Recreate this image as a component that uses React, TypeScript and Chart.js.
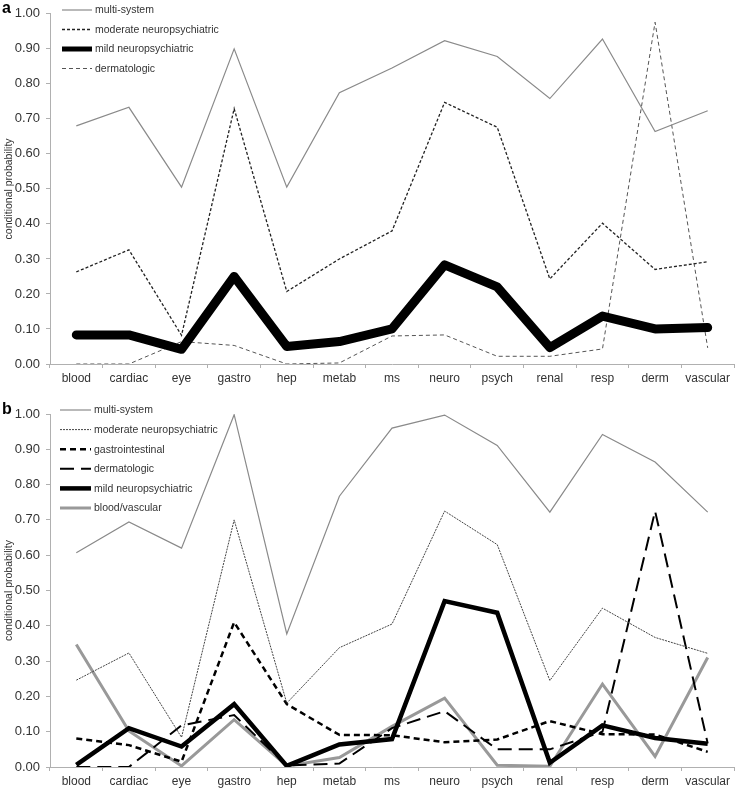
import React, { useEffect, useRef } from "react";
import { Chart, registerables } from "chart.js";

Chart.register(...registerables);

const categories = ["blood", "cardiac", "eye", "gastro", "hep", "metab", "ms", "neuro", "psych", "renal", "resp", "derm", "vascular"];
const yTickValues = [0, 0.1, 0.2, 0.3, 0.4, 0.5, 0.6, 0.7, 0.8, 0.9, 1.0];
const yTitle = "conditional probability";

// Panel a
const aMultiSystem = [0.68, 0.733, 0.505, 0.9, 0.505, 0.775, 0.845, 0.923, 0.878, 0.758, 0.928, 0.664, 0.723];
const aModerateNeuro = [0.263, 0.326, 0.082, 0.729, 0.207, 0.3, 0.38, 0.747, 0.676, 0.243, 0.402, 0.27, 0.292];
const aMildNeuro = [0.083, 0.083, 0.042, 0.25, 0.05, 0.064, 0.1, 0.283, 0.22, 0.047, 0.137, 0.1, 0.104];
const aDermatologic = [0, 0, 0.064, 0.053, 0, 0.003, 0.08, 0.083, 0.022, 0.022, 0.043, 0.976, 0.046];

// Panel b
const bMultiSystem = [0.607, 0.694, 0.62, 0.998, 0.377, 0.767, 0.96, 0.997, 0.911, 0.722, 0.942, 0.864, 0.722];
const bModerateNeuro = [0.246, 0.323, 0.084, 0.7, 0.181, 0.338, 0.405, 0.725, 0.63, 0.245, 0.45, 0.367, 0.322];
const bGastro = [0.081, 0.062, 0.015, 0.41, 0.178, 0.091, 0.09, 0.07, 0.078, 0.13, 0.093, 0.092, 0.043];
const bDermatologic = [0, 0, 0.118, 0.147, 0.004, 0.01, 0.11, 0.158, 0.05, 0.05, 0.1, 0.725, 0.067];
const bMildNeuro = [0.006, 0.11, 0.058, 0.178, 0.003, 0.064, 0.079, 0.47, 0.437, 0.012, 0.118, 0.082, 0.066];
const bBloodVascular = [0.347, 0.102, 0.003, 0.134, 0.003, 0.027, 0.115, 0.195, 0.005, 0.002, 0.235, 0.03, 0.31];

const FONT = "'Liberation Sans', Arial, sans-serif";

const lineLegendPlugin = {
  id: "lineLegend",
  afterDraw(chart: any) {
    const o = chart.options.plugins.lineLegend;
    if (!o) return;
    const ctx = chart.ctx;
    ctx.save();
    chart.data.datasets.forEach((ds: any, i: number) => {
      const y = o.y + i * o.spacing;
      ctx.beginPath();
      ctx.strokeStyle = ds.borderColor;
      ctx.lineWidth = Math.min(ds.borderWidth, 5);
      ctx.setLineDash(ds.borderDash || []);
      ctx.lineCap = "butt";
      ctx.moveTo(o.x, y);
      ctx.lineTo(o.x + o.w, y);
      ctx.stroke();
      ctx.setLineDash([]);
      ctx.fillStyle = "#333";
      ctx.font = `10.5px ${FONT}`;
      ctx.textBaseline = "middle";
      ctx.textAlign = "left";
      ctx.fillText(ds.label, o.x + o.w + 3, y + 0.5);
    });
    ctx.restore();
  },
};

function makeOptions(topPad: number, legend: any) {
  return {
    responsive: false,
    animation: false,
    layout: { padding: { top: topPad, right: 4, left: 0, bottom: 0 } },
    elements: { point: { radius: 0 }, line: { tension: 0 } },
    plugins: {
      legend: { display: false },
      tooltip: { enabled: false },
      lineLegend: legend,
    },
    scales: {
      x: {
        type: "category",
        offset: true,
        afterFit: (s: any) => { s.height = 23; },
        grid: { display: true, drawOnChartArea: false, drawTicks: true, tickLength: 4, offset: true, color: "#b0b0b0" },
        border: { color: "#b0b0b0", width: 1 },
        ticks: { color: "#333", font: { family: FONT, size: 12 }, padding: 3, autoSkip: false, maxRotation: 0 },
      },
      y: {
        min: 0,
        max: 1,
        afterFit: (s: any) => { s.width = 50; },
        afterBuildTicks: (s: any) => { s.ticks = yTickValues.map((v) => ({ value: v })); },
        grid: { display: true, drawOnChartArea: false, drawTicks: true, tickLength: 4, color: "#b0b0b0" },
        border: { color: "#b0b0b0", width: 1 },
        ticks: { color: "#333", font: { family: FONT, size: 13 }, padding: 6, callback: (v: any) => Number(v).toFixed(2) },
        title: { display: true, text: yTitle, color: "#333", font: { family: FONT, size: 10.5 }, padding: { top: 3, bottom: 0 } },
      },
    },
  };
}

function ChartCanvas({ height, config }: { height: number; config: () => any }) {
  const ref = useRef<HTMLCanvasElement>(null);
  useEffect(() => {
    const chart = new Chart(ref.current as HTMLCanvasElement, config());
    return () => chart.destroy();
  }, []);
  return <canvas ref={ref} width={738} height={height} style={{ display: "block", width: 738, height }} />;
}

const configA = () => ({
  type: "line",
  data: {
    labels: categories,
    datasets: [
      { label: "multi-system", data: aMultiSystem, borderColor: "#8a8a8a", borderWidth: 1.2 },
      { label: "moderate neuropsychiatric", data: aModerateNeuro, borderColor: "#222", borderWidth: 1.3, borderDash: [3, 2] },
      { label: "mild neuropsychiatric", data: aMildNeuro, borderColor: "#000", borderWidth: 9, borderJoinStyle: "round", borderCapStyle: "round" },
      { label: "dermatologic", data: aDermatologic, borderColor: "#555", borderWidth: 1, borderDash: [4, 3] },
    ],
  },
  options: makeOptions(12, { x: 62, y: 10, spacing: 19.5, w: 30 }),
  plugins: [lineLegendPlugin],
});

const configB = () => ({
  type: "line",
  data: {
    labels: categories,
    datasets: [
      { label: "multi-system", data: bMultiSystem, borderColor: "#8a8a8a", borderWidth: 1.2 },
      { label: "moderate neuropsychiatric", data: bModerateNeuro, borderColor: "#444", borderWidth: 1, borderDash: [2, 1] },
      { label: "gastrointestinal", data: bGastro, borderColor: "#000", borderWidth: 2.5, borderDash: [6, 4] },
      { label: "dermatologic", data: bDermatologic, borderColor: "#000", borderWidth: 2, borderDash: [14, 7] },
      { label: "mild neuropsychiatric", data: bMildNeuro, borderColor: "#000", borderWidth: 4.5 },
      { label: "blood/vascular", data: bBloodVascular, borderColor: "#999", borderWidth: 3 },
    ],
  },
  options: makeOptions(27, { x: 60, y: 23, spacing: 19.6, w: 31 }),
  plugins: [lineLegendPlugin],
});

export default function App() {
  const letter: React.CSSProperties = { position: "absolute", left: 2, fontFamily: FONT, fontWeight: "bold", fontSize: 16, color: "#000", lineHeight: "16px" };
  return (
    <div style={{ position: "absolute", left: 0, top: 0, width: 738, height: 790, background: "#fff" }}>
      <ChartCanvas height={387} config={configA} />
      <ChartCanvas height={403} config={configB} />
      <div style={{ ...letter, top: 0 }}>a</div>
      <div style={{ ...letter, top: 401 }}>b</div>
    </div>
  );
}
